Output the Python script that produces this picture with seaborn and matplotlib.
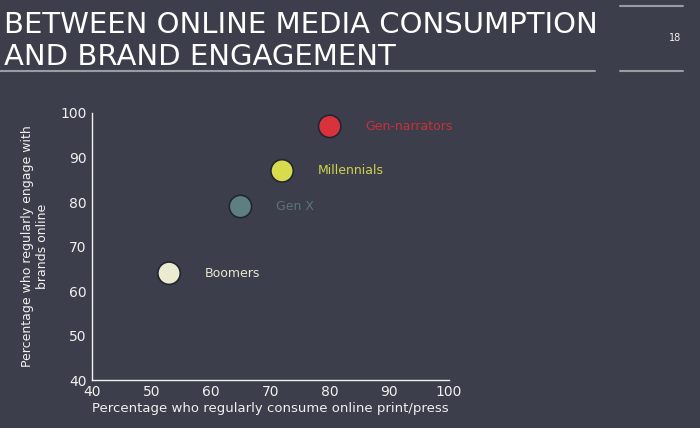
import matplotlib
matplotlib.use('Agg')
import matplotlib.pyplot as plt
import seaborn as sns
import pandas as pd

GROUPS = ["Gen-narrators", "Millennials", "Gen X", "Boomers"]
PRINT_PRESS = [80, 72, 65, 53]
ENGAGE = [97, 87, 79, 64]
COLORS = ["#d9323a", "#d8dc4c", "#5e7f80", "#ecebd0"]
LABEL_COLORS = ["#c8303a", "#cfd34a", "#5a7577", "#e8e6cf"]

BG = "#3c3f4b"
FG = "#f0f0f0"

sns.set_style("dark")
plt.rcParams['font.family'] = ['DejaVu Sans']

df = pd.DataFrame({"group": GROUPS, "x": PRINT_PRESS, "y": ENGAGE})

fig = plt.figure(figsize=(7, 4.28), dpi=100, facecolor=BG)
ax = fig.add_axes([0.131, 0.112, 0.51, 0.624], facecolor=BG)

sns.scatterplot(data=df, x="x", y="y", hue="group", palette=dict(zip(GROUPS, COLORS)),
                s=260, edgecolor="#222533", linewidth=1.2, legend=False, ax=ax, zorder=3)
for g, x, y, c in zip(GROUPS, PRINT_PRESS, ENGAGE, LABEL_COLORS):
    ax.text(x + 6, y, g, color=c, fontsize=9, va="center", ha="left")

ax.set_xlim(40, 100)
ax.set_ylim(40, 100)
ax.set_xticks(range(40, 101, 10))
ax.set_yticks(range(40, 101, 10))
ax.tick_params(colors=FG, labelsize=10, length=0)
ax.grid(False)
for side in ["top", "right"]:
    ax.spines[side].set_visible(False)
for side in ["left", "bottom"]:
    ax.spines[side].set_color(FG)
    ax.spines[side].set_linewidth(1)
ax.set_xlabel("Percentage who regularly consume online print/press", color=FG, fontsize=9.5, labelpad=2)
ax.set_ylabel("Percentage who regularly engage with\nbrands online", color=FG, fontsize=9, labelpad=8)

fig.text(0.005, 0.975, "BETWEEN ONLINE MEDIA CONSUMPTION\nAND BRAND ENGAGEMENT", color="white",
         fontsize=21, va="top", ha="left", linespacing=1.2)
fig.text(0.965, 0.905, "18", color=FG, fontsize=7, ha="center")
fig.add_artist(plt.Line2D([0.0, 0.85], [0.835, 0.835], color="#9a9ca3", lw=1.5))
fig.add_artist(plt.Line2D([0.885, 0.975], [0.835, 0.835], color="#9a9ca3", lw=1.5))
fig.add_artist(plt.Line2D([0.885, 0.975], [0.985, 0.985], color="#9a9ca3", lw=1.5))

fig.savefig("out.png", dpi=100, facecolor=BG)
